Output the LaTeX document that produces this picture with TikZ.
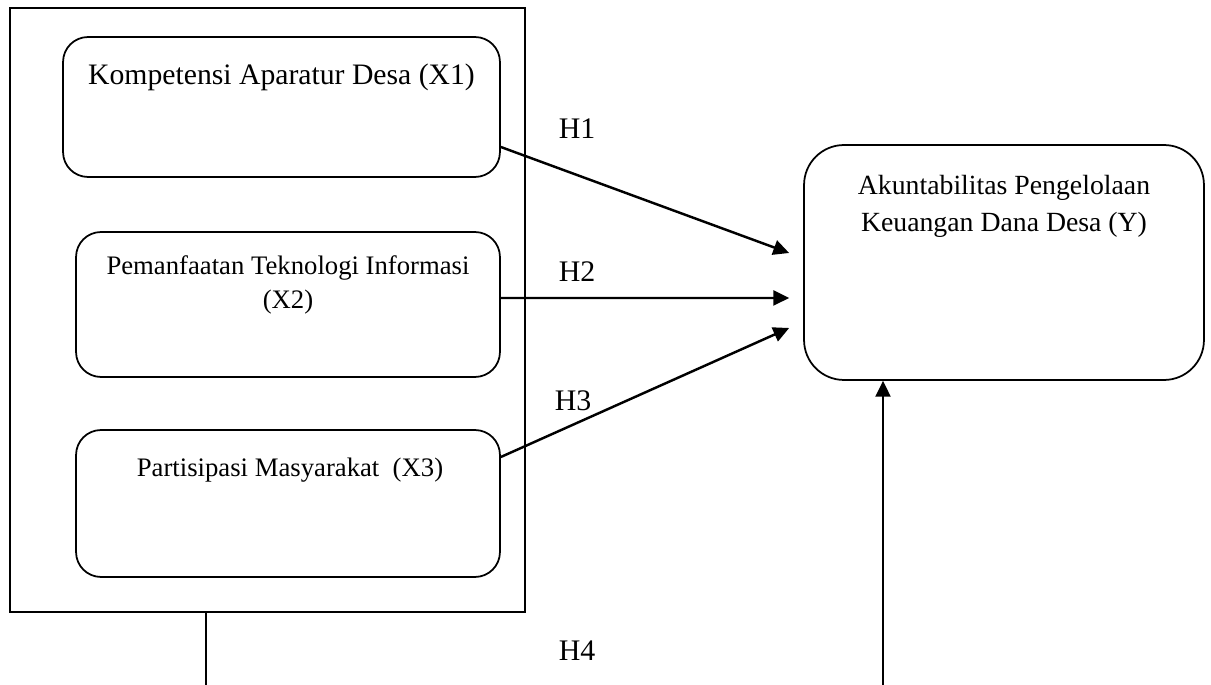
\documentclass[tikz,border=0pt]{standalone}
\usepackage{fontspec}
\setmainfont{Liberation Serif}
\usetikzlibrary{arrows.meta}

\tikzset{
  varbox/.style={draw, line width=1pt, rounded corners=0.5cm, inner sep=0pt},
  vartext/.style={font=\fontsize{15.2}{19.3}\selectfont, align=center, inner sep=0pt, anchor=base},
  hyp/.style={font=\fontsize{17}{20}\selectfont, inner sep=0pt, anchor=base},
  link/.style={line width=1.4pt, -{Triangle[length=9pt,width=8.5pt]}}
}

\begin{document}
\begin{tikzpicture}[x=0.02cm, y=-0.02cm]
\useasboundingbox (0,0) rectangle (1211,685);

% variabel independen
\node[draw, line width=1.4pt, minimum width=10.3cm, minimum height=12.08cm, inner sep=0pt] (outer) at (267.5,310) {};
\node[varbox, minimum width=8.74cm, minimum height=2.8cm] (x1) at (281.5,107) {};
\node[varbox, minimum width=8.48cm, minimum height=2.9cm] (x2) at (288,304.5) {};
\node[varbox, minimum width=8.48cm, minimum height=2.94cm] (x3) at (288,503.5) {};
\node[vartext, font=\fontsize{16.9}{20}\selectfont] (x1txt) at (281.5,85) {Kompetensi Aparatur Desa (X1)};
\node[vartext] (x2txt) at (288,275) {Pemanfaatan Teknologi Informasi};
\node[vartext] (x2txtb) at (288,309) {(X2)};
\node[vartext] (x3txt) at (290,477) {Partisipasi Masyarakat~~(X3)};

% variabel dependen
\node[varbox, rounded corners=0.8cm, minimum width=8cm, minimum height=4.7cm] (y) at (1004,262.5) {};
\node[vartext, font=\fontsize{15.8}{21}\selectfont] (ytxt) at (1004,195) {Akuntabilitas Pengelolaan};
\node[vartext, font=\fontsize{15.8}{21}\selectfont] (ytxtb) at (1004,232) {Keuangan Dana Desa (Y)};

% hipotesis
\draw[link] ([yshift=-0.8cm]x1.east) -- ([xshift=-0.28cm,yshift=0.19cm]y.west);
\draw[link] ([yshift=0.13cm]x2.east) -- ([xshift=-0.28cm,yshift=-0.71cm]y.west);
\draw[link] ([yshift=0.93cm]x3.east) -- ([xshift=-0.28cm,yshift=-1.31cm]y.west);
\node[hyp] (h1) at (577,139) {H1};
\node[hyp] (h2) at (577,282) {H2};
\node[hyp] (h3) at (573,411) {H3};
\node[hyp] (h4) at (577,661) {H4};

\coordinate (h4a) at (206,685);
\coordinate (h4b) at (883,685);
\draw[line width=0.7pt] (outer.south -| h4a) -- (h4a);
\draw[link] (h4b) -- (h4b |- y.south);
\end{tikzpicture}
\end{document}
